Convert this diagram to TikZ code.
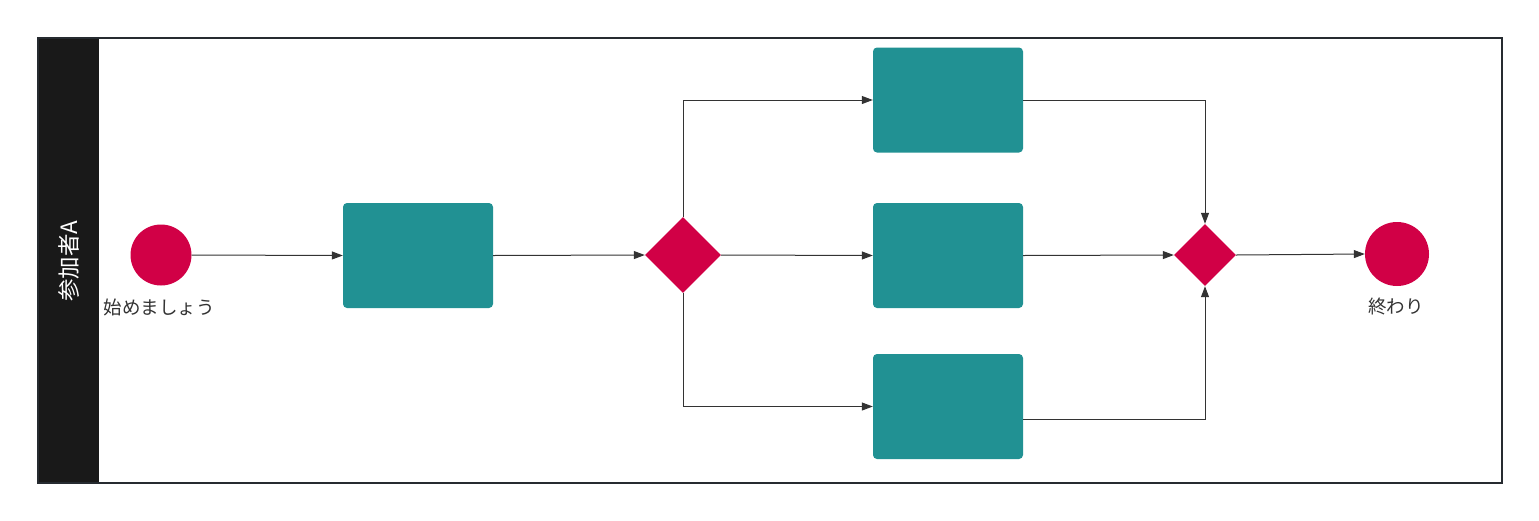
\documentclass[tikz,border=0pt]{standalone}
\usepackage{fontspec}
\setmainfont{Noto Sans CJK JP}
\usetikzlibrary{shapes.geometric,arrows.meta}
\definecolor{teal1}{HTML}{219193}
\definecolor{crim}{HTML}{D10046}
\definecolor{linec}{HTML}{333333}
\definecolor{borderc}{HTML}{262B30}
\tikzset{
  task/.style={draw=none,fill=teal1,rounded corners=4pt,minimum width=150pt,minimum height=105pt,inner sep=0pt},
  evt/.style={circle,fill=crim,minimum size=61pt,inner sep=0pt},
  gate/.style={diamond,fill=crim,inner sep=0pt,aspect=1},
  flow/.style={draw=linec,line width=1pt,-{Triangle[length=11pt,width=8pt]}},
  lbl/.style={font=\fontsize{18.5pt}{20pt}\selectfont,text=linec}
}
\begin{document}
\begin{tikzpicture}[x=1pt,y=-1pt]
\useasboundingbox (0,0) rectangle (1539,520);
\fill[white] (0,0) rectangle (1539,520);
% pool
\draw[borderc,line width=2pt,fill=white] (38,38) rectangle (1502,483);
\fill[black!90] (38,38) rectangle (99,483);
\draw[borderc,line width=2pt] (38,38) rectangle (1502,483);
\node[rotate=90,text=white,font=\fontsize{22.5pt}{24pt}\selectfont] (lane) at (69,261) {参加者A};
% nodes
\node[evt] (start) at (161,255) {};
\node[lbl] (startl) at (159,307) {始めましょう};
\node[task] (t1) at (418,255.5) {};
\node[gate,minimum size=76pt] (g1) at (683,255) {};
\node[task] (ta) at (948,100) {};
\node[task] (tb) at (948,255.5) {};
\node[task] (tc) at (948,406.5) {};
\node[gate,minimum size=62pt] (g2) at (1205,255) {};
\node[evt,minimum width=62pt,minimum height=64pt] (end) at (1397,254) {};
\node[lbl] (endl) at (1396,307) {終わり};
% connectors
\draw[flow] (start.east) -- (t1.west);
\draw[flow] (t1.east) -- (g1.west);
\draw[flow] (g1.north) |- (ta.west);
\draw[flow] (g1.east) -- (tb.west);
\draw[flow] (g1.south) |- (tc.west);
\draw[flow] (ta.east) -| (g2.north);
\draw[flow] (tb.east) -- (g2.west);
\draw[flow] ([yshift=-13pt]tc.east) -| (g2.south);
\draw[flow] (g2.east) -- (end.west);
\end{tikzpicture}
\end{document}
